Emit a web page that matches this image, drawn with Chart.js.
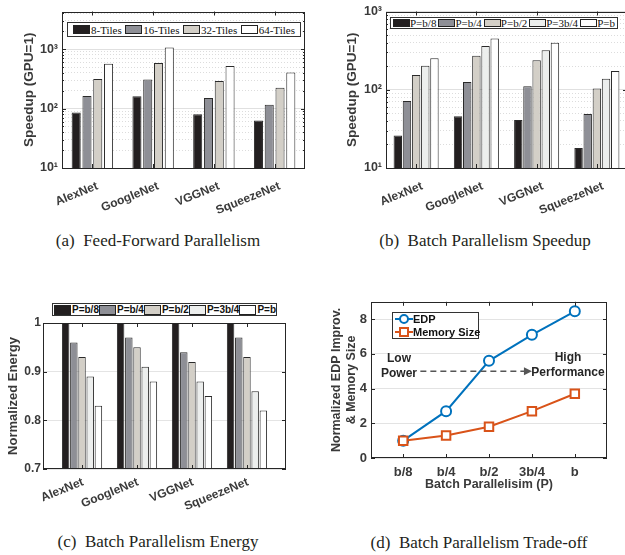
<!DOCTYPE html>
<html>
<head>
<meta charset="utf-8">
<script src="https://cdn.jsdelivr.net/npm/chart.js@4.4.1/dist/chart.umd.min.js"></script>
<style>
  html, body { margin: 0; padding: 0; background: #fff; }
  body { position: relative; width: 625px; height: 555px; overflow: hidden; }
  canvas, .legend, .caption, .note { position: absolute; }
  .legend { background: #fff; border: 1px solid #333; display: flex; align-items: center;
            justify-content: space-between; box-sizing: border-box; color: #111; white-space: nowrap; }
  .legend .item { display: flex; align-items: center; }
  .legend .sw { display: inline-block; border: 1px solid #222; box-sizing: border-box; }
  .serif { font-family: 'Liberation Serif', serif; }
  .sans { font-family: 'Liberation Sans', Arial, sans-serif; font-weight: bold; }
  .caption { font-family: 'Liberation Serif', serif; font-size: 17px; color: #231f20;
             text-align: center; width: 300px; line-height: 20px; white-space: nowrap; }
  .note { font-family: 'Liberation Sans', Arial, sans-serif; font-weight: bold; font-size: 12px;
          color: #262626; text-align: center; width: 100px; line-height: 14.5px; }
  .lrow { display: flex; align-items: center; height: 13px; }
</style>
</head>
<body>
<canvas id="ffChart" width="310" height="220" style="left:0;top:0"></canvas>
<canvas id="speedChart" width="320" height="220" style="left:310px;top:0"></canvas>
<canvas id="energyChart" width="310" height="230" style="left:0;top:290px"></canvas>
<canvas id="tradeChart" width="315" height="205" style="left:310px;top:290px"></canvas>

<div id="ffLegend" class="legend serif" style="left:67px;top:22px;width:234px;height:15px;padding:0 5px;font-size:11px"></div>
<div id="speedLegend" class="legend serif" style="left:390px;top:17px;width:228px;height:12px;padding:0 2px;font-size:11px"></div>
<div id="energyLegend" class="legend sans" style="left:52px;top:303px;width:225px;height:13px;padding:0 1px;font-size:10px"></div>
<div id="tradeLegend" class="legend sans" style="left:392px;top:312px;width:87px;height:27px;padding:0 1px;font-size:11px;flex-direction:column;justify-content:center;align-items:flex-start"></div>

<div class="note" style="left:349px;top:351px">Low<br>Power</div>
<div class="note" style="left:518px;top:350px">High<br>Performance</div>

<div class="caption" style="left:8px;top:231px">(a)&nbsp; Feed-Forward Parallelism</div>
<div class="caption" style="left:335px;top:231px">(b)&nbsp; Batch Parallelism Speedup</div>
<div class="caption" style="left:8px;top:532px">(c)&nbsp; Batch Parallelism Energy</div>
<div class="caption" style="left:329px;top:533px">(d)&nbsp; Batch Parallelism Trade-off</div>

<script>
const netLabels = ['AlexNet', 'GoogleNet', 'VGGNet', 'SqueezeNet'];

// (a) feed-forward speedup, GPU = 1
const tileLabels = ['8-Tiles', '16-Tiles', '32-Tiles', '64-Tiles'];
const tiles8 = [86, 161, 80, 63];
const tiles16 = [163, 307, 151, 116];
const tiles32 = [314, 582, 292, 224];
const tiles64 = [568, 1066, 520, 404];

// (b) batch speedup
const batchLegend = ['P=b/8', 'P=b/4', 'P=b/2', 'P=3b/4', 'P=b'];
const speedB8 = [26, 46, 41, 18];
const speedB4 = [72, 126, 111, 49];
const speedB2 = [154, 271, 239, 104];
const speed3B4 = [203, 362, 319, 138];
const speedB = [253, 451, 398, 173];

// (c) normalized energy
const energyB8 = [1, 1, 1, 1];
const energyB4 = [0.96, 0.97, 0.94, 0.97];
const energyB2 = [0.93, 0.95, 0.92, 0.93];
const energy3B4 = [0.89, 0.91, 0.88, 0.86];
const energyB = [0.83, 0.88, 0.85, 0.82];

// (d) trade-off
const batchTicks = ['b/8', 'b/4', 'b/2', '3b/4', 'b'];
const edpImprov = [1, 2.7, 5.6, 7.1, 8.45];
const memorySize = [1, 1.3, 1.8, 2.7, 3.7];
const tradeLabels = ['EDP', 'Memory Size'];

const logTickLabels = {10: '10¹', 100: '10²', 1000: '10³'};

const tileColours = ['#231f20', '#8e8f96', '#d3cfc7', '#ffffff'];
const batchColours = ['#231f20', '#8e8f96', '#d3cfc7', '#eceeed', '#ffffff'];
const edpColour = '#0072bd';
const memColour = '#d95319';
const textColour = '#3a3a3a';
const sansFont = "'Liberation Sans', Arial, sans-serif";

// box + inward tick marks, matlab style
const frameTicks = {
    id: 'frameTicks',
    afterDraw(chart) {
        const {ctx, chartArea: a, scales} = chart;
        ctx.save();
        ctx.strokeStyle = '#262626';
        ctx.lineWidth = 1;
        ctx.beginPath();
        scales.x.ticks.forEach((t, i) => {
            const px = Math.round(scales.x.getPixelForTick(i)) + 0.5;
            ctx.moveTo(px, a.bottom); ctx.lineTo(px, a.bottom - 4);
            ctx.moveTo(px, a.top); ctx.lineTo(px, a.top + 4);
        });
        scales.y.ticks.forEach((t, i) => {
            const py = Math.round(scales.y.getPixelForTick(i)) + 0.5;
            const len = t.major === false ? 2 : 4;
            ctx.moveTo(a.left, py); ctx.lineTo(a.left + len, py);
            ctx.moveTo(a.right, py); ctx.lineTo(a.right - len, py);
        });
        ctx.stroke();
        ctx.strokeRect(Math.round(a.left) + 0.5, Math.round(a.top) + 0.5,
                       Math.round(a.width) - 1, Math.round(a.height) - 1);
        ctx.restore();
    }
};

function buildLegend(id, labels, colours, sw) {
    const box = document.getElementById(id);
    labels.forEach((label, i) => {
        const item = document.createElement('span');
        item.className = 'item';
        item.innerHTML = '<span class="sw" style="width:' + sw[0] + 'px;height:' + sw[1] +
            'px;background:' + colours[i] + ';margin-right:' + sw[2] + 'px"></span>' + label;
        box.appendChild(item);
    });
}

function barSets(labels, series, colours, extra) {
    return series.map((values, i) => Object.assign({
        label: labels[i],
        data: values,
        backgroundColor: colours[i],
        borderColor: '#2a2a2a',
        borderWidth: 1
    }, extra || {}));
}

function xNetAxis(height, pad, shift) {
    return {
        afterFit: s => { s.height = height; },
        grid: { display: false, drawTicks: false },
        border: { display: false },
        ticks: {
            autoSkip: false, minRotation: 22, maxRotation: 22, padding: pad, labelOffset: shift,
            color: textColour, font: { family: sansFont, size: 12, weight: 'bold' }
        }
    };
}

function logAxis(max, width, titlePad) {
    return {
        type: 'logarithmic',
        min: 10,
        max: max,
        afterFit: s => { s.width = width; },
        afterBuildTicks: scale => {
            const ticks = [];
            for (let d = 10; d <= max; d *= 10) {
                for (let m = 1; m <= 9 && d * m <= max; m++) {
                    ticks.push({ value: d * m, major: m === 1 });
                }
            }
            scale.ticks = ticks;
        },
        grid: {
            drawTicks: false,
            color: c => (c.tick && c.tick.major) ? '#e0e0e0' : '#dcdcdc'
        },
        border: { display: false, dash: c => (c.tick && c.tick.major) ? [] : [1, 2] },
        ticks: {
            autoSkip: false, padding: 4, color: textColour,
            font: { family: sansFont, size: 12.5, weight: 'bold' },
            callback: v => logTickLabels[v] || ''
        },
        title: {
            display: true, text: 'Speedup (GPU=1)', color: textColour,
            font: { family: sansFont, size: 13.5, weight: 'bold' },
            padding: { top: titlePad, bottom: 0 }
        }
    };
}

const baseOptions = {
    responsive: false,
    animation: false,
    devicePixelRatio: 1,
    plugins: { legend: { display: false }, tooltip: { enabled: false } }
};

buildLegend('ffLegend', tileLabels, tileColours, [17, 9, 1]);
buildLegend('speedLegend', batchLegend, batchColours, [17, 8, 0]);
buildLegend('energyLegend', batchLegend, batchColours, [17, 10, 1]);

// (a)
new Chart(document.getElementById('ffChart').getContext('2d'), {
    type: 'bar',
    data: {
        labels: netLabels,
        datasets: barSets(tileLabels, [tiles8, tiles16, tiles32, tiles64], tileColours,
                          { barPercentage: 0.84, categoryPercentage: 0.71 })
    },
    options: Object.assign({}, baseOptions, {
        layout: { padding: { top: 7, right: 5, left: 0, bottom: 0 } },
        scales: { x: xNetAxis(52, 11, 5), y: logAxis(4300, 62, 21) }
    }),
    plugins: [frameTicks]
});

// (b)
new Chart(document.getElementById('speedChart').getContext('2d'), {
    type: 'bar',
    data: {
        labels: netLabels,
        datasets: barSets(batchLegend, [speedB8, speedB4, speedB2, speed3B4, speedB], batchColours,
                          { barPercentage: 0.92, categoryPercentage: 0.76 })
    },
    options: Object.assign({}, baseOptions, {
        layout: { padding: { top: 8, right: 3, left: 0, bottom: 0 } },
        scales: { x: xNetAxis(52, 11, 6), y: logAxis(1000, 76, 34) }
    }),
    plugins: [frameTicks]
});

// (c)
const energyMin = 0.7;
const energySeries = [energyB8, energyB4, energyB2, energy3B4, energyB]
    .map(vals => vals.map((v, j) => ({ x: j + 1, y: v })));
const energyX = xNetAxis(51, 6, 1);
Object.assign(energyX, {
    type: 'linear', min: 0.29, max: 4.71, offset: false,
    afterBuildTicks: scale => { scale.ticks = netLabels.map((n, j) => ({ value: j + 1 })); }
});
energyX.ticks.callback = v => netLabels[v - 1];

new Chart(document.getElementById('energyChart').getContext('2d'), {
    type: 'bar',
    data: {
        datasets: barSets(batchLegend, energySeries, batchColours,
                          { barPercentage: 0.91, categoryPercentage: 0.745, base: energyMin })
    },
    options: Object.assign({}, baseOptions, {
        layout: { padding: { top: 33, right: 24, left: 0, bottom: 0 } },
        scales: {
            x: energyX,
            y: {
                min: energyMin, max: 1,
                afterFit: s => { s.width = 43; },
                grid: { drawTicks: false, color: '#e4e4e4' },
                border: { display: false },
                ticks: {
                    stepSize: 0.1, padding: 2, color: textColour,
                    font: { family: sansFont, size: 12, weight: 'bold' },
                    callback: v => Math.abs(v - 1) < 1e-6 ? '1' : v.toFixed(1)
                },
                title: {
                    display: true, text: 'Normalized Energy', color: textColour,
                    font: { family: sansFont, size: 13, weight: 'bold' },
                    padding: { top: 6, bottom: 0 }
                }
            }
        }
    }),
    plugins: [frameTicks]
});

// (d)
const arrowFrom = { x: 0.4, y: 5 };
const arrowTo = { x: 3.0, y: 5 };
const tradeArrow = {
    id: 'tradeArrow',
    afterDatasetsDraw(chart) {
        const {ctx, scales: {x, y}} = chart;
        const x0 = x.getPixelForValue(arrowFrom.x), x1 = x.getPixelForValue(arrowTo.x);
        const py = y.getPixelForValue(arrowFrom.y);
        ctx.save();
        ctx.strokeStyle = '#555';
        ctx.fillStyle = '#555';
        ctx.lineWidth = 1.5;
        ctx.setLineDash([6, 4]);
        ctx.beginPath();
        ctx.moveTo(x0, py); ctx.lineTo(x1 - 7, py);
        ctx.stroke();
        ctx.setLineDash([]);
        ctx.beginPath();
        ctx.moveTo(x1, py); ctx.lineTo(x1 - 8, py - 4); ctx.lineTo(x1 - 8, py + 4);
        ctx.closePath();
        ctx.fill();
        ctx.restore();
    }
};

const tradeLegendBox = document.getElementById('tradeLegend');
[[edpColour, 'circle'], [memColour, 'square']].forEach((m, i) => {
    const mark = m[1] === 'circle'
        ? '<circle cx="10" cy="6" r="4" fill="#fff" stroke="' + m[0] + '" stroke-width="2"/>'
        : '<rect x="6" y="2" width="8" height="8" fill="#fff" stroke="' + m[0] + '" stroke-width="2"/>';
    const row = document.createElement('div');
    row.className = 'lrow';
    row.innerHTML = '<svg width="19" height="12"><line x1="1" y1="6" x2="19" y2="6" stroke="' +
        m[0] + '" stroke-width="2"/>' + mark + '</svg>' + tradeLabels[i];
    tradeLegendBox.appendChild(row);
});

new Chart(document.getElementById('tradeChart').getContext('2d'), {
    type: 'line',
    data: {
        datasets: [{
            label: tradeLabels[0],
            data: edpImprov.map((v, i) => ({ x: i, y: v })),
            borderColor: edpColour, borderWidth: 2,
            pointStyle: 'circle', pointRadius: 5, pointBorderWidth: 2,
            pointBackgroundColor: '#fff', pointBorderColor: edpColour,
            order: 1
        }, {
            label: tradeLabels[1],
            data: memorySize.map((v, i) => ({ x: i, y: v })),
            borderColor: memColour, borderWidth: 2,
            pointStyle: 'rect', pointRadius: 6, pointBorderWidth: 2,
            pointBackgroundColor: '#fff', pointBorderColor: memColour,
            order: 0
        }]
    },
    options: Object.assign({}, baseOptions, {
        layout: { padding: { top: 6, right: 18, left: 0, bottom: 0 } },
        scales: {
            x: {
                type: 'linear', min: -0.75, max: 4.75,
                afterFit: s => { s.height = 37; },
                afterBuildTicks: scale => { scale.ticks = batchTicks.map((b, i) => ({ value: i })); },
                grid: { display: false, drawTicks: false },
                border: { display: false },
                ticks: {
                    autoSkip: false, maxRotation: 0, padding: 7, color: textColour,
                    font: { family: sansFont, size: 13, weight: 'bold' },
                    callback: v => batchTicks[v]
                },
                title: {
                    display: true, text: 'Batch Parallelisim (P)', color: textColour,
                    font: { family: sansFont, size: 12.5, weight: 'bold' },
                    padding: { top: 0, bottom: 2.5 }
                }
            },
            y: {
                min: 0, max: 9,
                afterFit: s => { s.width = 61; },
                grid: { drawTicks: false, color: '#e3e3e3' },
                border: { display: false },
                ticks: {
                    stepSize: 2, includeBounds: false, padding: 4, color: textColour,
                    font: { family: sansFont, size: 13, weight: 'bold' }
                },
                title: {
                    display: true, text: ['Normalized EDP Improv.', '& Memory Size'], color: textColour,
                    font: { family: sansFont, size: 12.5, weight: 'bold' },
                    padding: { top: 19.5, bottom: 0 }
                }
            }
        }
    }),
    plugins: [tradeArrow, frameTicks]
});
</script>
</body>
</html>
